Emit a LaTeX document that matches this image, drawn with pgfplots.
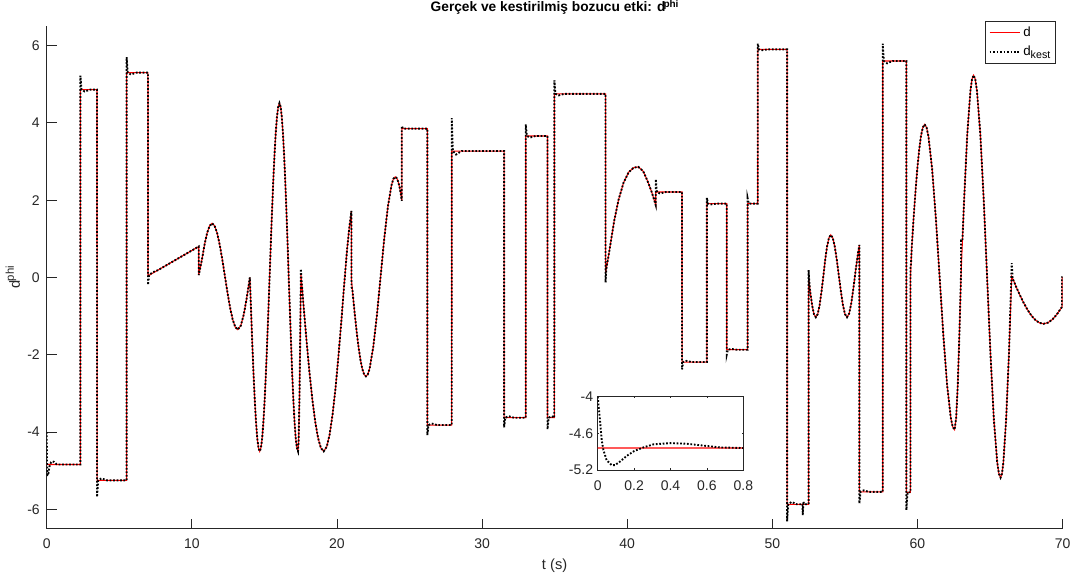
\documentclass[border=0pt]{standalone}
\usepackage{fontspec}
\setmainfont{Liberation Sans}
\usepackage{pgfplots}
\usepackage{pgfplotstable}
\pgfplotsset{compat=1.18}
\definecolor{axgray}{RGB}{38,38,38}
\newcommand{\sups}[2]{\raisebox{#2}{\fontsize{#1}{#1}\selectfont phi}}

% t, real disturbance d, estimate k (d_kest)
\pgfplotstableread{
t d k
0 -4.84 -4.00
0.009 -4.84 -4.27
0.022 -4.84 -4.71
0.031 -4.84 -4.87
0.049 -4.84 -5.04
0.077 -4.84 -5.12
0.095 -4.84 -5.12
0.123 -4.84 -5.06
0.159 -4.84 -4.97
0.200 -4.84 -4.89
0.251 -4.84 -4.83
0.306 -4.84 -4.78
0.397 -4.84 -4.76
0.489 -4.84 -4.77
0.580 -4.84 -4.80
0.672 -4.84 -4.83
0.800 -4.84 -4.84
2.32 -4.84 -4.84
2.321 4.86 5.22
2.40 4.86 4.86
2.62 4.86 4.81
3.00 4.86 4.86
3.47 4.86 4.86
3.471 -5.25 -5.68
3.55 -5.25 -5.25
3.77 -5.25 -5.20
4.15 -5.25 -5.25
5.51 -5.25 -5.25
5.511 5.30 5.70
5.59 5.30 5.30
5.81 5.30 5.25
6.19 5.30 5.30
6.98 5.30 5.30
6.981 0.04 -0.19
7.06 0.057 0.057
7.28 0.105 0.13
7.66 0.187 0.187
10.48 0.80 0.80
10.481 0.06 0.06
10.704 0.474 0.474
10.878 0.848 0.848
11.052 1.144 1.144
11.226 1.334 1.334
11.40 1.40 1.40
11.577 1.333 1.333
11.754 1.137 1.137
11.931 0.833 0.833
12.108 0.450 0.450
12.285 0.025 0.025
12.462 -0.400 -0.400
12.639 -0.783 -0.783
12.816 -1.087 -1.087
12.993 -1.283 -1.283
13.17 -1.35 -1.35
13.378 -1.247 -1.247
13.585 -0.955 -0.955
13.793 -0.517 -0.517
14.00 0 0
14.085 -0.88 -0.88
14.17 -1.72 -1.72
14.255 -2.50 -2.50
14.34 -3.18 -3.18
14.425 -3.74 -3.74
14.51 -4.16 -4.16
14.595 -4.41 -4.41
14.68 -4.50 -4.50
14.765 -4.41 -4.41
14.85 -4.16 -4.16
14.935 -3.74 -3.74
15.02 -3.18 -3.18
15.105 -2.50 -2.50
15.19 -1.72 -1.72
15.275 -0.88 -0.88
15.36 0 0
15.445 0.88 0.88
15.53 1.72 1.72
15.615 2.50 2.50
15.70 3.18 3.18
15.785 3.74 3.74
15.87 4.16 4.16
15.955 4.41 4.41
16.04 4.51 4.51
16.12 4.42 4.42
16.20 4.16 4.16
16.28 3.74 3.74
16.36 3.18 3.18
16.44 2.50 2.50
16.52 1.72 1.72
16.60 0.88 0.88
16.68 0 0
16.76 -0.88 -0.88
16.84 -1.72 -1.72
16.92 -2.50 -2.50
17.00 -3.18 -3.18
17.08 -3.74 -3.74
17.16 -4.16 -4.16
17.24 -4.41 -4.41
17.32 -4.50 -4.50
17.36 -4.25 -4.25
17.42 -3.10 -3.10
17.47 -1.60 -1.60
17.52 0.10 0.22
17.56 -0.08 -0.08
17.716 -0.797 -0.797
17.913 -1.662 -1.662
18.109 -2.458 -2.458
18.305 -3.152 -3.152
18.501 -3.723 -3.723
18.698 -4.150 -4.150
18.894 -4.413 -4.413
19.09 -4.50 -4.50
19.30 -4.38 -4.38
19.50 -4.06 -4.06
19.70 -3.55 -3.55
19.90 -2.88 -2.88
20.10 -2.06 -2.06
20.30 -1.16 -1.16
20.50 -0.19 -0.19
20.70 0.72 0.72
20.85 1.28 1.28
21.00 1.72 1.72
21.001 -0.06 -0.25
21.06 -0.30 -0.30
21.125 -0.55 -0.55
21.25 -1.02 -1.02
21.375 -1.45 -1.45
21.50 -1.83 -1.83
21.625 -2.14 -2.14
21.75 -2.37 -2.37
21.875 -2.51 -2.51
22.00 -2.56 -2.56
22.126 -2.51 -2.51
22.253 -2.36 -2.36
22.505 -1.80 -1.80
22.758 -0.97 -0.97
23.01 0.02 0.02
23.263 1.01 1.01
23.515 1.84 1.84
23.768 2.40 2.40
23.894 2.55 2.55
24.02 2.60 2.60
24.12 2.57 2.57
24.22 2.48 2.48
24.32 2.33 2.33
24.40 2.17 2.17
24.47 1.98 1.98
24.471 3.85 3.92
24.55 3.85 3.85
26.23 3.85 3.85
26.231 -3.82 -4.08
26.31 -3.82 -3.82
26.53 -3.82 -3.78
26.91 -3.82 -3.82
27.91 -3.82 -3.82
27.911 3.27 4.12
27.99 3.27 3.27
28.21 3.27 3.18
28.59 3.27 3.27
31.52 3.27 3.27
31.521 -3.63 -3.88
31.60 -3.63 -3.63
31.82 -3.63 -3.59
32.20 -3.63 -3.63
33.01 -3.63 -3.63
33.011 3.66 3.96
33.09 3.66 3.66
33.31 3.66 3.62
33.69 3.66 3.66
34.51 3.66 3.66
34.511 -3.63 -3.93
34.59 -3.63 -3.63
34.80 -3.63 -3.59
34.98 -3.63 -3.63
34.981 4.75 5.10
35.06 4.75 4.75
35.28 4.75 4.71
35.66 4.75 4.75
38.51 4.75 4.75
38.511 0.10 -0.13
38.57 0.24 0.24
38.70 0.52 0.52
38.80 0.75 0.75
39.10 1.45 1.45
39.40 2.00 2.00
39.75 2.45 2.45
40.10 2.72 2.72
40.45 2.84 2.84
40.77 2.86 2.86
41.10 2.75 2.75
41.40 2.50 2.50
41.70 2.20 2.20
41.97 1.87 1.87
41.971 2.21 2.54
42.05 2.21 2.21
42.27 2.21 2.17
42.65 2.21 2.21
43.78 2.21 2.21
43.781 -2.19 -2.38
43.86 -2.19 -2.19
44.08 -2.19 -2.16
44.46 -2.19 -2.19
45.49 -2.19 -2.19
45.491 1.91 2.06
45.57 1.91 1.91
45.79 1.91 1.89
46.17 1.91 1.91
46.86 1.91 1.91
46.861 -1.87 -2.00
46.94 -1.87 -1.87
47.16 -1.87 -1.85
47.54 -1.87 -1.87
48.30 -1.87 -1.87
48.301 1.91 2.05
48.38 1.91 1.91
49.00 1.91 1.91
49.001 5.90 6.05
49.08 5.90 5.90
49.30 5.90 5.88
49.68 5.90 5.90
51.02 5.90 5.90
51.021 -5.87 -6.31
51.10 -5.87 -5.87
51.32 -5.87 -5.81
51.70 -5.87 -5.87
52.08 -5.87 -5.87
52.10 -5.87 -6.15
52.14 -5.87 -5.80
52.20 -5.87 -5.87
52.50 -5.87 -5.87
52.501 0.00 0.19
52.56 -0.18 -0.18
52.62 -0.39 -0.39
52.75 -0.73 -0.73
52.87 -0.95 -0.95
53.00 -1.03 -1.03
53.13 -0.95 -0.95
53.26 -0.72 -0.72
53.39 -0.37 -0.37
53.52 0.035 0.035
53.64 0.44 0.44
53.77 0.79 0.79
53.90 1.02 1.02
54.03 1.10 1.10
54.17 1.02 1.02
54.31 0.79 0.79
54.45 0.44 0.44
54.59 0.035 0.035
54.73 -0.37 -0.37
54.87 -0.72 -0.72
55.01 -0.95 -0.95
55.15 -1.03 -1.03
55.30 -0.93 -0.93
55.45 -0.655 -0.655
55.60 -0.25 -0.25
55.75 0.20 0.20
55.90 0.61 0.61
56.00 0.84 0.84
56.001 -5.55 -5.85
56.08 -5.55 -5.55
56.30 -5.55 -5.51
56.68 -5.55 -5.55
57.61 -5.55 -5.55
57.611 5.60 6.05
57.69 5.60 5.60
57.91 5.60 5.54
58.29 5.60 5.60
59.24 5.60 5.60
59.241 -5.56 -6.02
59.32 -5.56 -5.56
59.52 -5.56 -5.56
59.521 0.00 0.25
59.56 0.35 0.35
59.608 0.77 0.77
59.735 1.52 1.52
59.863 2.20 2.20
59.99 2.80 2.80
60.118 3.29 3.29
60.245 3.66 3.66
60.373 3.88 3.88
60.50 3.96 3.96
60.629 3.88 3.88
60.758 3.66 3.66
61.015 2.80 2.80
61.273 1.52 1.52
61.53 0.01 0.01
61.788 -1.50 -1.50
62.045 -2.78 -2.78
62.303 -3.64 -3.64
62.431 -3.865 -3.865
62.56 -3.94 -3.94
62.67 -3.64 -3.64
62.78 -2.79 -2.79
62.89 -1.51 -1.51
63.00 0.00 0.00
63.01 0.09 0.95
63.10 0.94 0.94
63.218 2.00 2.00
63.435 3.70 3.70
63.653 4.83 4.83
63.761 5.13 5.13
63.87 5.23 5.23
63.986 5.13 5.13
64.103 4.83 4.83
64.335 3.71 3.71
64.568 2.02 2.02
64.80 0.025 0.025
65.033 -1.97 -1.97
65.265 -3.66 -3.66
65.498 -4.78 -4.78
65.614 -5.08 -5.08
65.73 -5.18 -5.18
65.826 -5.08 -5.08
65.923 -4.79 -4.79
66.115 -3.66 -3.66
66.308 -1.98 -1.98
66.50 0.02 0.37
66.56 -0.03 -0.03
66.66 -0.11 -0.11
66.774 -0.218 -0.218
67.048 -0.447 -0.447
67.321 -0.658 -0.658
67.595 -0.843 -0.843
67.869 -0.994 -0.994
68.143 -1.107 -1.107
68.416 -1.177 -1.177
68.69 -1.20 -1.20
69.00 -1.17 -1.17
69.30 -1.09 -1.09
69.60 -0.96 -0.96
69.97 -0.76 -0.76
69.971 0.00 0.00
70.00 0.00 0.00
}\dist

\begin{document}
\begin{tikzpicture}
\path[use as bounding box] (-35.0pt,-37.8pt) rectangle (772.7pt,396.45pt);
\begin{axis}[
  at={(0pt,0pt)}, anchor=south west,
  scale only axis, width=761.85pt, height=376.8pt,
  xmin=0, xmax=70, ymin=-6.5, ymax=6.5,
  axis x line*=bottom, axis y line*=left,
  axis line style={axgray, line width=0.6pt, -},
  tick align=inside, major tick length=7.6pt,
  tick style={axgray, line width=0.6pt},
  xtick={0,10,20,30,40,50,60,70},
  xticklabels={0,10,20,30,40,50,60,70},
  ytick={-6,-4,-2,0,2,4,6},
  yticklabels={-6,-4,-2,0,2,4,6},
  tick label style={font=\fontsize{10.5}{12}\selectfont, text=axgray},
  xticklabel style={anchor=north, inner sep=0pt, yshift=-7.3pt},
  yticklabel style={anchor=east, inner sep=0pt, xshift=-5pt},
  xlabel={t (s)},
  xlabel style={at={(axis description cs:0.5,-0.0804)}, anchor=base,
    font=\fontsize{11}{13}\selectfont, text=axgray},
  ylabel={d\kern-0.5pt\sups{8.5}{4.6pt}},
  ylabel style={at={(axis description cs:-0.0263,0.5)}, anchor=base,
    font=\fontsize{11}{13}\selectfont, text=axgray},
  title={Gerçek ve kestirilmiş bozucu etki: d\kern-1.5pt\sups{7.5}{3.2pt}},
  title style={at={(axis description cs:0.5,1)}, anchor=base, yshift=5.2pt,
    font=\bfseries\fontsize{10.3}{12}\selectfont},
  legend image code/.code={\draw[#1] (0pt,0pt) -- (23pt,0pt);},
  legend cell align=left,
  legend style={at={(axis description cs:0.9936,1.011)}, anchor=north east,
    draw=axgray, line width=0.6pt, fill=white,
    font=\fontsize{10}{12}\selectfont,
    inner xsep=2.5pt, inner ysep=2.5pt, row sep=1.5pt,
    nodes={inner xsep=1.5pt, inner ysep=2pt}},
]
\addplot[red, line width=0.8pt] table[x=t, y=d]{\dist};
\addlegendentry{d}
\addplot[black, line width=1.4pt, dash pattern=on 1.3pt off 1.3pt] table[x=t, y=k]{\dist};
\addlegendentry{d\raisebox{-2.2pt}{\fontsize{8}{8}\selectfont kest}}
\end{axis}

\begin{axis}[
  at={(413.25pt,43.95pt)}, anchor=south west,
  scale only axis, width=109.2pt, height=55pt,
  xmin=0, xmax=0.8, ymin=-5.2, ymax=-4,
  axis background/.style={fill=white},
  axis line style={axgray, line width=0.6pt},
  tick align=inside, major tick length=1.3pt,
  tick style={axgray, line width=0.6pt},
  xtick pos=both, ytick pos=both,
  xtick={0,0.2,0.4,0.6,0.8},
  xticklabels={0,0.2,0.4,0.6,0.8},
  ytick={-5.2,-4.6,-4},
  yticklabels={-5.2,-4.6,-4},
  tick label style={font=\fontsize{10.5}{12}\selectfont, text=axgray},
  xticklabel style={anchor=north, inner sep=0pt, yshift=-8pt},
  yticklabel style={anchor=east, inner sep=0pt, xshift=-3.3pt},
]
\addplot[red, line width=0.8pt] table[x=t, y=d]{\dist};
\addplot[black, line width=1.4pt, dash pattern=on 1.3pt off 1.3pt] table[x=t, y=k]{\dist};
\end{axis}
\end{tikzpicture}
\end{document}
